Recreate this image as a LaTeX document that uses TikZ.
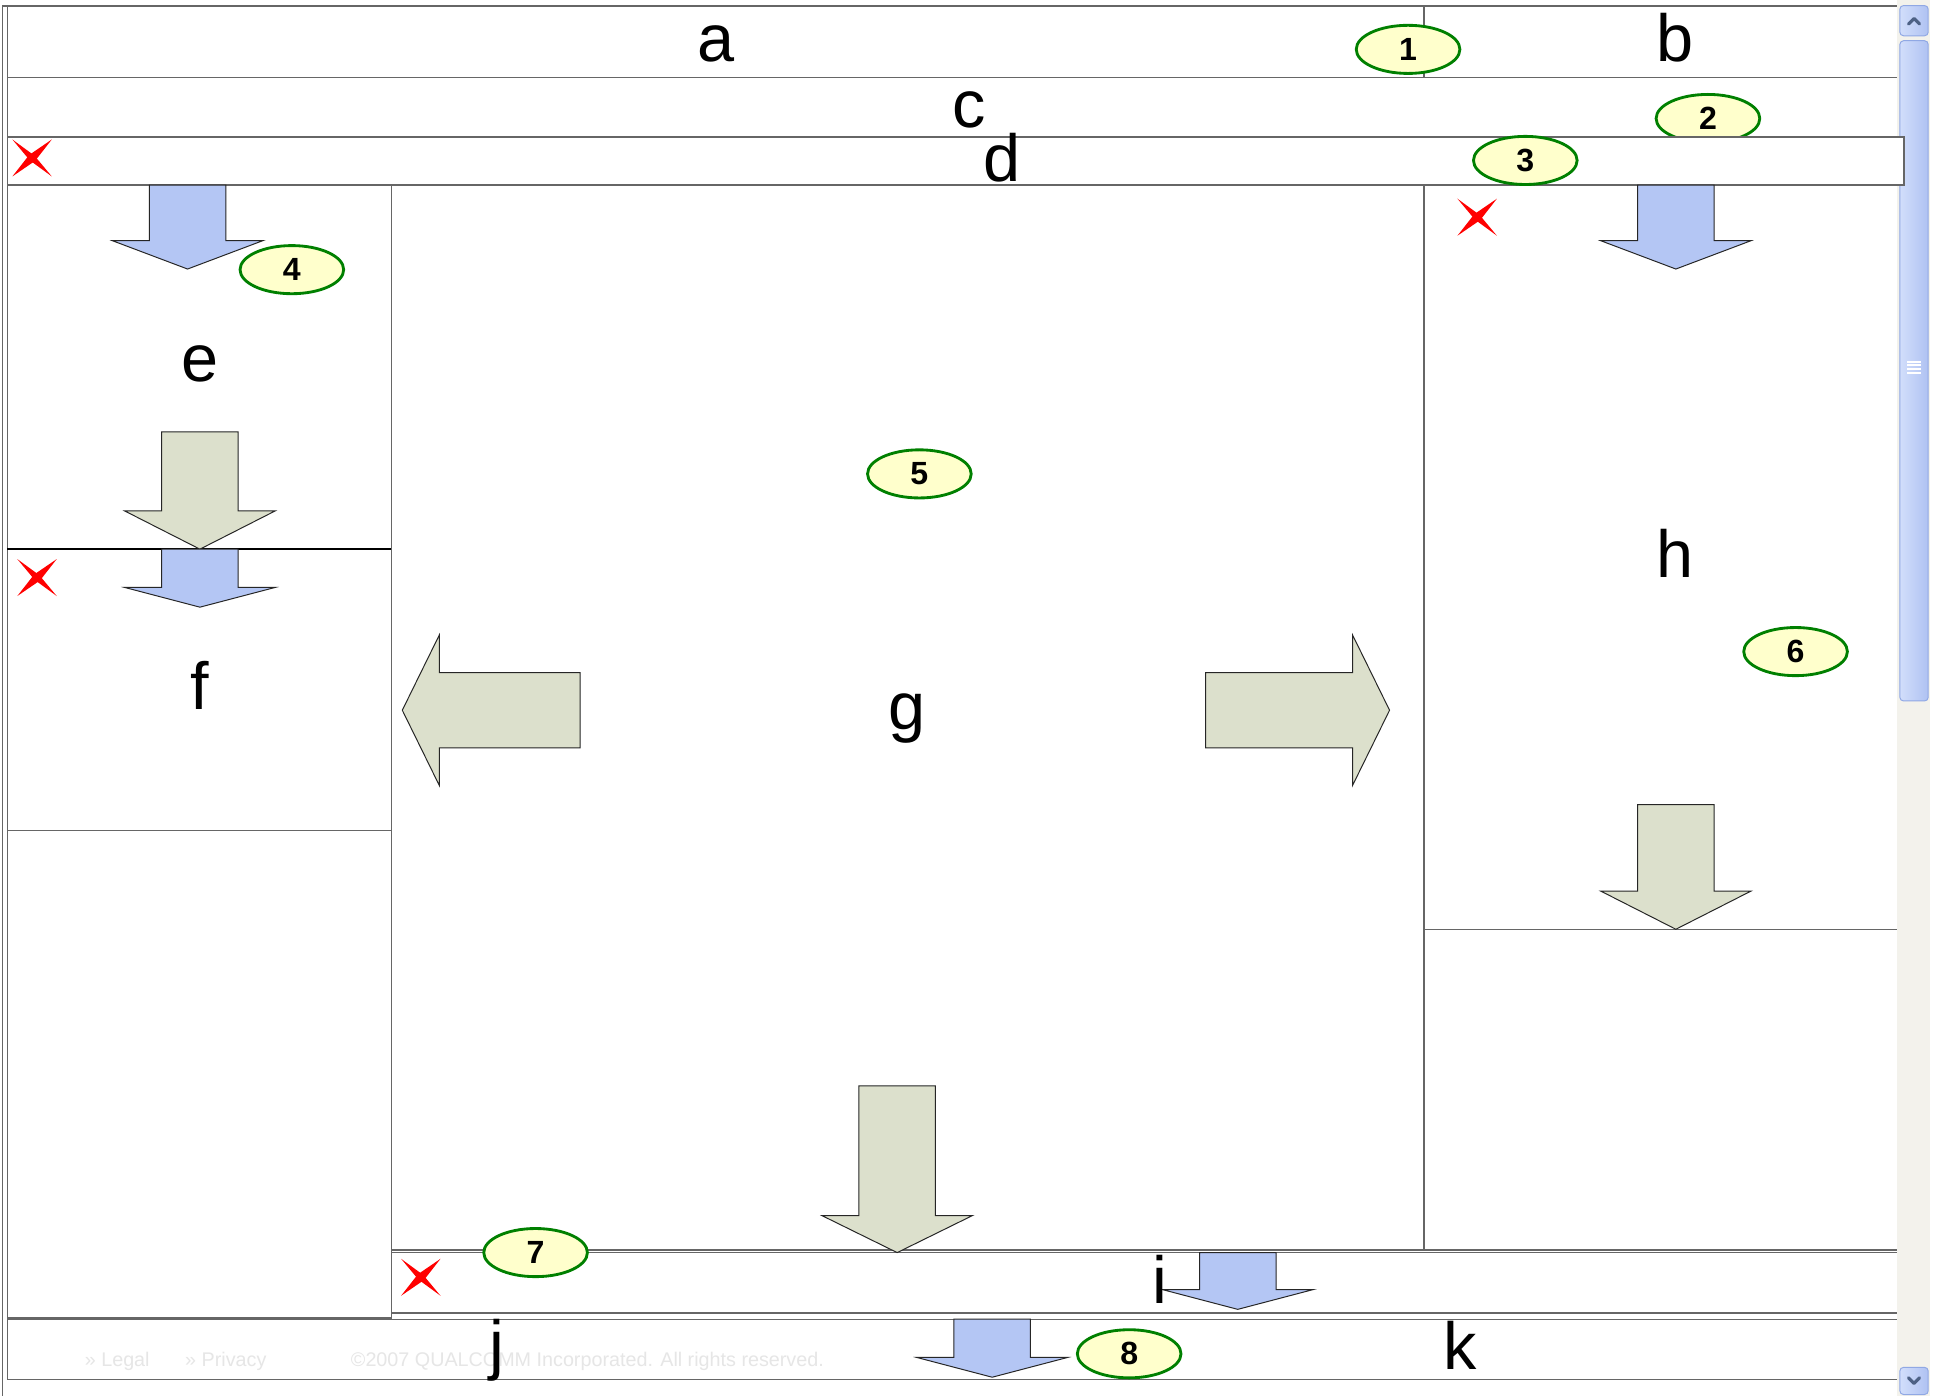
\documentclass[tikz,border=0pt]{standalone}
\usepackage{fontspec}
\setmainfont{Liberation Sans}
\usetikzlibrary{shapes.geometric,fit}
\definecolor{framegray}{HTML}{666666}
\definecolor{arrowblue}{HTML}{B4C6F4}
\definecolor{arrowsage}{HTML}{DCE0CC}
\definecolor{calloutfill}{HTML}{FFFFCC}
\definecolor{calloutline}{HTML}{008000}
\definecolor{trackcol}{HTML}{F3F2EC}
\definecolor{thumbA}{HTML}{D2DEFB}
\definecolor{thumbB}{HTML}{AFC2F2}
\definecolor{thumbedge}{HTML}{90A8E4}
\definecolor{chevcol}{HTML}{4D6185}
\definecolor{footgray}{HTML}{E6E6E6}
\tikzset{
  panel/.style={draw=framegray, line width=0.55pt, inner sep=0pt, outer sep=0pt},
  callout/.style={ellipse, draw=calloutline, fill=calloutfill, line width=1.15pt,
    minimum width=42pt, minimum height=19.5pt, inner sep=0pt,
    font=\fontsize{13}{13}\selectfont\bfseries},
  letter/.style={font=\fontsize{27}{27}\selectfont, inner sep=0pt, anchor=base},
  blockarrow/.style={draw=black!85, line width=0.4pt, line join=miter},
  redx/.style={fill=red, draw=none},
  sbpart/.style={draw=thumbedge, line width=0.4pt, left color=thumbA, right color=thumbB, rounded corners=1.5pt},
  footer/.style={text=footgray, font=\fontsize{8}{8}\selectfont, inner sep=0pt, anchor=base},
}
% fill, cx, top, neck, tip, halfshaft, halfhead
\newcommand\DownArrow[7]{%
  \filldraw[blockarrow, fill=#1] ({#2-#6},#3) -- ({#2+#6},#3) -- ({#2+#6},#4) -- ({#2+#7},#4)
    -- (#2,#5) -- ({#2-#7},#4) -- ({#2-#6},#4) -- cycle;}
% fill, cy, tip, neck, tail, halfshaft, halfhead
\newcommand\SideArrow[7]{%
  \filldraw[blockarrow, fill=#1] (#3,#2) -- (#4,{#2-#7}) -- (#4,{#2-#6}) -- (#5,{#2-#6})
    -- (#5,{#2+#6}) -- (#4,{#2+#6}) -- (#4,{#2+#7}) -- cycle;}
\newcommand\RedCross[2]{%
  \fill[redx] ({#1+16},{#2-15}) -- ({#1+2.4},{#2+2.4}) -- ({#1-16},{#2+15}) -- ({#1-2.4},{#2-2.4}) -- cycle;
  \fill[redx] ({#1-16},{#2-15}) -- ({#1+1.9},{#2-1.9}) -- ({#1+16},{#2+15}) -- ({#1-1.9},{#2+1.9}) -- cycle;}
\begin{document}
\begin{tikzpicture}[x=0.5pt, y=-0.5pt]
\useasboundingbox[fill=white] (0,0) rectangle (1568,1131);
% panels
\node[panel, fit={(6,5)(1154,63)}] (pa) {};
\node[panel, fit={(1154,5)(1540,63)}] (pb) {};
\node[panel, fit={(6,63)(1540,111)}] (pc) {};
\node[panel, fit={(6,150)(317,445)}] (pe) {};
\node[panel, fit={(6,445)(317,673)}] (pf) {};
\node[panel, fit={(6,673)(317,1068)}] (pleft) {};
\node[panel, fit={(317,150)(1154,1013)}] (pg) {};
\node[panel, fit={(1154,150)(1540,753)}] (ph) {};
\node[panel, fit={(1154,753)(1540,1013)}] (phlow) {};
\node[panel, fit={(317,1015)(1540,1064)}] (pi) {};
\node[panel, fit={(6,1069)(1540,1118)}] (pj) {};
\draw[black, line width=0.55pt] (pf.north west) -- (pf.north east);
\draw[framegray, line width=0.55pt] (2,5) -- (2,1131);
\draw[framegray, line width=0.55pt] (2,5) -- (6,5);
% callout 2 sits behind the d bar
\node[callout] (n2) at (1384,96) {2};
% scrollbar
\fill[trackcol] (1537.5,0) rectangle (1564,1131);
\draw[sbpart] (1539.5,4.5) rectangle (1562.5,29);
\draw[chevcol, line width=1.3pt, line cap=round, line join=round] (1546.5,19.5) -- (1551,15) -- (1555.5,19.5);
\draw[sbpart] (1539.5,33) rectangle (1562.5,568);
\foreach \yy in {293,296,299,302} \draw[white, line width=0.8pt] (1545.5,\yy) -- (1556.5,\yy);
\draw[sbpart] (1539.5,1108) rectangle (1562.5,1130);
\draw[chevcol, line width=1.3pt, line cap=round, line join=round] (1546.5,1116.5) -- (1551,1121) -- (1555.5,1116.5);
% d bar on top of scrollbar
\node[panel, fill=white, fit={(6,111)(1543,150)}] (pd) {};
% block arrows
\DownArrow{arrowblue}{152}{150}{195}{218}{31}{61}
\DownArrow{arrowsage}{162}{350}{414}{445}{31}{61}
\DownArrow{arrowblue}{162}{445}{476}{492}{31}{61}
\DownArrow{arrowblue}{1358}{150}{195}{218}{31}{61}
\DownArrow{arrowsage}{1358}{652}{722}{753}{31}{61}
\DownArrow{arrowsage}{727}{880}{985}{1015}{31}{61}
\DownArrow{arrowblue}{1003}{1015}{1045}{1061}{31}{61}
\DownArrow{arrowblue}{804}{1069}{1100}{1116}{31}{61}
\SideArrow{arrowsage}{575.5}{326}{356}{470}{30.5}{61}
\SideArrow{arrowsage}{575.5}{1126}{1096}{977}{30.5}{61}
% footer text
\node[footer] (legal) at (95,1107) {» Legal};
\node[footer] (privacy) at (183,1107) {» Privacy};
\node[footer] (copy) at (476,1107) {©2007 QUALCOMM Incorporated. All rights reserved.};
% letters
\node[letter] (la) at (580,50) {a};
\node[letter] (lb) at (1357,50) {b};
\node[letter] (lc) at (785,103) {c};
\node[letter] (ld) at (812,147) {d};
\node[letter] (le) at (162,309) {e};
\node[letter] (lf) at (162,575) {f};
\node[letter] (lg) at (735,591) {g};
\node[letter] (lh) at (1357,468) {h};
\node[letter] (li) at (940,1056) {i};
\node[letter] (lj) at (403,1108) {j};
\node[letter] (lk) at (1183,1110) {k};
% red crosses
\RedCross{26}{128}
\RedCross{1197}{176}
\RedCross{30}{468}
\RedCross{341}{1035}
% callouts
\node[callout] (n1) at (1141,40) {1};
\node[callout] (n3) at (1236,130) {3};
\node[callout] (n4) at (236.5,218.5) {4};
\node[callout] (n5) at (745,384) {5};
\node[callout] (n6) at (1455,528) {6};
\node[callout] (n7) at (434,1015) {7};
\node[callout] (n8) at (915,1097) {8};
\end{tikzpicture}
\end{document}
